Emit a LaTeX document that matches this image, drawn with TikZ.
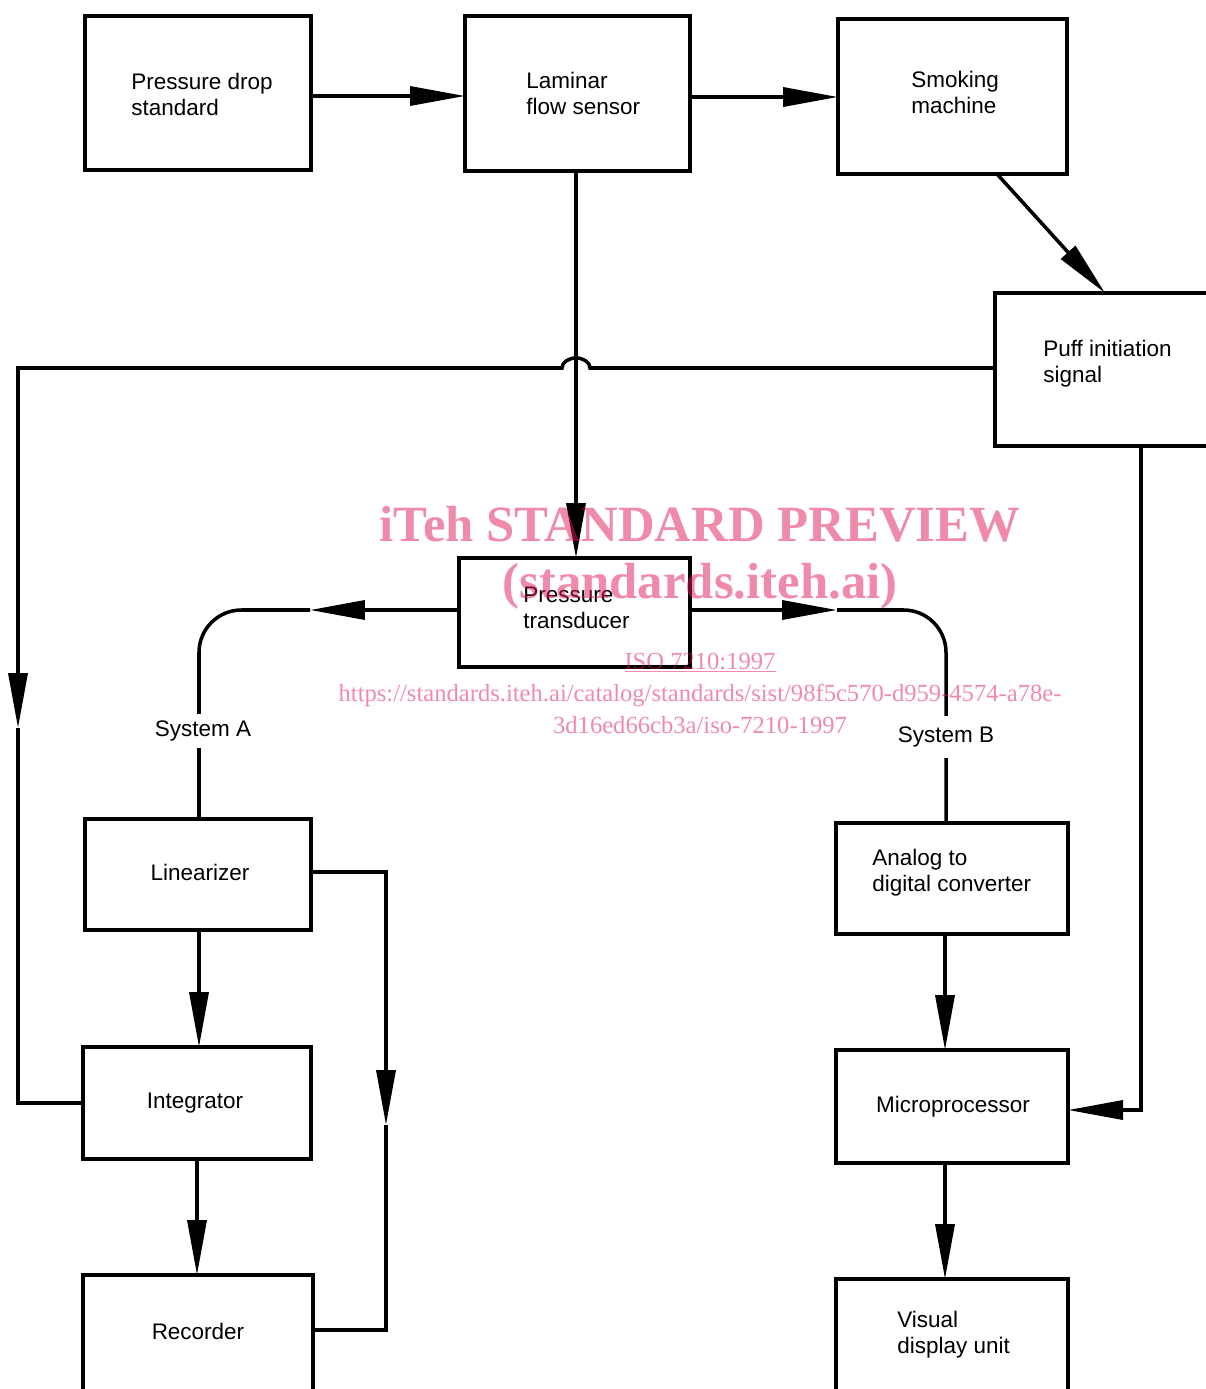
\documentclass[tikz,border=0pt]{standalone}
\usepackage{fontspec}
\setmainfont{Liberation Sans}
\newfontfamily\wmfont{Liberation Serif}
\usetikzlibrary{arrows.meta}
\definecolor{wmpink}{RGB}{225,25,85}
\begin{document}
\begin{tikzpicture}[x=0.02cm,y=-0.02cm,
  box/.style={draw, line width=2.7pt, inner sep=0pt, outer sep=0pt},
  bsize/.style 2 args={minimum width=#1*0.02cm, minimum height=#2*0.02cm},
  conn/.style={line width=2pt},
  tipped/.style={-{Triangle[length=1.1cm,width=0.38cm]}},
  txt/.style={font=\fontsize{12.8pt}{14.8pt}\selectfont, inner sep=0pt, align=left},
  lbl/.style={font=\fontsize{12.8pt}{14.8pt}\selectfont, fill=white, inner xsep=2pt, inner ysep=4pt},
  wmbig/.style={font=\wmfont\bfseries\fontsize{28.9pt}{30pt}\selectfont, text=wmpink, text opacity=0.5, inner sep=0pt, anchor=base},
  wmsmall/.style={font=\wmfont\fontsize{14pt}{16pt}\selectfont, text=wmpink, text opacity=0.5, inner sep=0pt, anchor=base}]
\clip (0,0) rectangle (1206,1389);
\fill[white] (0,0) rectangle (1206,1389);

% boxes
\node[box, bsize={226}{154}] (pds) at (198,93) {};
\node[box, bsize={225}{155}] (lfs) at (577.5,93.5) {};
\node[box, bsize={229}{155}] (smk) at (952.5,96.5) {};
\node[box, bsize={220}{153}] (puff) at (1105,369.5) {};
\node[box, bsize={231}{109}] (trans) at (574.5,612.5) {};
\node[box, bsize={226}{111}] (lin) at (198,874.5) {};
\node[box, bsize={228}{112}] (integ) at (197,1103) {};
\node[box, bsize={230}{125}] (rec) at (198,1337.5) {};
\node[box, bsize={232}{111}] (adc) at (952,878.5) {};
\node[box, bsize={232}{113}] (micro) at (952,1106.5) {};
\node[box, bsize={232}{121}] (vdu) at (952,1339.5) {};

% texts
\node[txt, anchor=west] (tpds) at (131,94) {Pressure drop\\standard};
\node[txt, anchor=west] (tlfs) at (526,93) {Laminar\\flow sensor};
\node[txt, anchor=west] (tsmk) at (911,92) {Smoking\\machine};
\node[txt, anchor=west] (tpuff) at (1043,364) {Puff initiation\\signal};
\node[txt, anchor=west] (ttrans) at (523,608) {Pressure\\transducer};
\node[txt] (tlin) at (200,872) {Linearizer};
\node[txt] (tinteg) at (195,1103) {Integrator};
\node[txt] (trec) at (198,1331) {Recorder};
\node[txt, anchor=west] (tadc) at (872,873) {Analog to\\digital converter};
\node[txt] (tmicro) at (953,1107) {Microprocessor};
\node[txt, anchor=west] (tvdu) at (897,1335) {Visual\\display unit};

% connectors
\draw[conn,tipped] (pds.east |- 0,96) -- (lfs.west |- 0,96);
\draw[conn,tipped] (lfs.east |- 0,97) -- (smk.west |- 0,97);
\draw[conn,tipped] (997,0 |- smk.south) -- (puff.north);
\draw[conn,tipped] (576,0 |- lfs.south) -- (576,0 |- trans.north);

% puff loop to integrator
\coordinate (tipL) at (18,728);
\draw[conn,tipped] (puff.west |- 0,368) -- (590,368)
  arc[start angle=0,end angle=180,x radius=0.28cm,y radius=0.2cm]
  -- (18,368) -- (tipL);
\draw[conn] (tipL) -- (18,1103) -- (integ.west);

% system A
\coordinate (tipA) at (310,610);
\draw[conn,tipped] (trans.west |- 0,610) -- (tipA);
\draw[conn,rounded corners=0.85cm] (tipA) -- (199,610) -- (199,0 |- lin.north);
\node[lbl] (sysA) at (203,731) {System A};

% system B
\coordinate (tipB) at (837,610);
\draw[conn,tipped] (trans.east |- 0,610) -- (tipB);
\draw[conn,rounded corners=0.85cm] (tipB) -- (946,610) -- (946,0 |- adc.north);
\node[lbl, inner ysep=6pt] (sysB) at (946,737) {System B};

% left column
\draw[conn,tipped] (199,0 |- lin.south) -- (199,0 |- integ.north);
\draw[conn,tipped] (197,0 |- integ.south) -- (197,0 |- rec.north);
\coordinate (tipR) at (386,1125);
\draw[conn,tipped] (lin.east |- 0,872) -- (386,872) -- (tipR);
\draw[conn] (tipR) -- (386,1330) -- (rec.east |- 0,1330);

% right column
\draw[conn,tipped] (945,0 |- adc.south) -- (945,0 |- micro.north);
\draw[conn,tipped] (945,0 |- micro.south) -- (945,0 |- vdu.north);
\draw[conn,tipped] (1141,0 |- puff.south) -- (1141,1110) -- (micro.east |- 0,1110);

% watermark
\node[wmbig] (wm1) at (700,541) {iTeh STANDARD PREVIEW};
\node[wmbig] (wm2) at (700,598) {(standards.iteh.ai)};
\node[wmsmall] (wm3) at (700,669) {\underline{ISO 7210:1997}};
\node[wmsmall] (wm4) at (700,701) {https://standards.iteh.ai/catalog/standards/sist/98f5c570-d959-4574-a78e-};
\node[wmsmall] (wm5) at (700,733) {3d16ed66cb3a/iso-7210-1997};
\end{tikzpicture}
\end{document}
